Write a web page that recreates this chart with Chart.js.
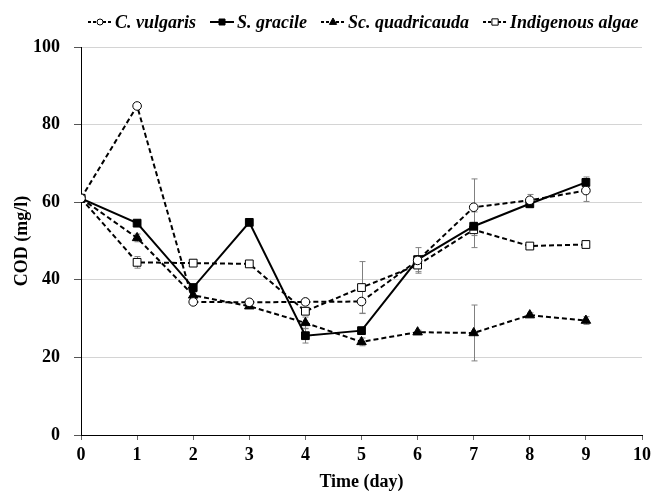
<!DOCTYPE html>
<html><head><meta charset="utf-8">
<script src="https://cdn.jsdelivr.net/npm/chart.js@4/dist/chart.umd.min.js"></script>
<style>
html,body{margin:0;padding:0;background:#fff;overflow:hidden;width:651px;height:491px}
#wrap{position:relative;width:670px;height:491px}
</style>
</head><body><div id="wrap"><canvas id="c"></canvas></div>
<script>
const days = [0, 1, 2, 3, 4, 5, 6, 7, 8, 9];
const xTicks = [0, 1, 2, 3, 4, 5, 6, 7, 8, 9, 10];
const yTicks = [0, 20, 40, 60, 80, 100];
const seriesNames = ['C. vulgaris', 'S. gracile', 'Sc. quadricauda', 'Indigenous algae'];
const cVulgaris     = [61, 84.8, 34.3, 34.2, 34.3, 34.4, 45.0, 58.7, 60.5, 63.0];
const sGracile      = [61, 54.6, 38.0, 54.8, 25.6, 26.9, 45.2, 53.8, 59.6, 65.1];
const scQuadricauda = [61, 50.8, 36.0, 33.2, 28.9, 24.0, 26.5, 26.3, 30.9, 29.5];
const indigenous    = [61, 44.5, 44.3, 44.1, 31.9, 38.0, 43.8, 52.9, 48.7, 49.1];
const cVulgarisErr     = [0, 0.5, 0.5, 0.5, 0.8, 3.0, 3.3, 7.3, 1.5, 2.8];
const sGracileErr      = [0, 0.8, 0.8, 0.5, 1.9, 0.8, 1.0, 1.0, 1.0, 1.4];
const scQuadricaudaErr = [0, 1.0, 0.8, 0.5, 1.5, 1.0, 0.5, 7.2, 0.6, 1.0];
const indigenousErr    = [0, 1.5, 0.5, 0.5, 0.8, 6.7, 1.7, 4.6, 0.5, 0.5];

const serif = '"Liberation Serif", "Times New Roman", serif';
const styles = [
  {dash: [5, 3], point: 'circle',   fill: '#fff', r: 4.3, lr: 3},
  {dash: [],     point: 'rect',     fill: '#000', r: 5.5, lr: 4},
  {dash: [5, 3], point: 'triangle', fill: '#000', r: 5.5, lr: 4},
  {dash: [5, 3], point: 'rect',     fill: '#fff', r: 5.5, lr: 4.2}
];
const allValues = [cVulgaris, sGracile, scQuadricauda, indigenous];
const allErrs = [cVulgarisErr, sGracileErr, scQuadricaudaErr, indigenousErr];

const datasets = allValues.map((vals, k) => ({
  label: seriesNames[k],
  data: days.map((d, i) => ({x: d, y: vals[i]})),
  borderColor: '#000',
  borderWidth: 2,
  borderDash: styles[k].dash,
  pointStyle: styles[k].point,
  pointRadius: styles[k].r,
  pointBackgroundColor: styles[k].fill,
  pointBorderColor: '#000',
  pointBorderWidth: 1,
  fill: false,
  tension: 0,
  errors: allErrs[k]
}));

const errorBars = {
  id: 'errorBars',
  beforeDatasetsDraw(chart) {
    const ctx = chart.ctx, xs = chart.scales.x, ys = chart.scales.y;
    ctx.save();
    ctx.strokeStyle = '#808080';
    ctx.lineWidth = 1;
    chart.data.datasets.forEach(ds => {
      ds.data.forEach((p, i) => {
        const e = ds.errors[i];
        if (!e) return;
        const px = Math.round(xs.getPixelForValue(p.x)) + 0.5;
        const top = ys.getPixelForValue(p.y + e);
        const bot = ys.getPixelForValue(p.y - e);
        ctx.beginPath();
        ctx.moveTo(px, top); ctx.lineTo(px, bot);
        ctx.moveTo(px - 3, top); ctx.lineTo(px + 3, top);
        ctx.moveTo(px - 3, bot); ctx.lineTo(px + 3, bot);
        ctx.stroke();
      });
    });
    ctx.restore();
  }
};

function drawMarker(ctx, style, x, y, r) {
  ctx.save();
  ctx.setLineDash([]);
  ctx.fillStyle = style.fill;
  ctx.strokeStyle = '#000';
  ctx.lineWidth = 1;
  ctx.beginPath();
  if (style.point === 'circle') {
    ctx.arc(x, y, r, 0, Math.PI * 2);
  } else if (style.point === 'rect') {
    ctx.rect(x - r * 0.75, y - r * 0.75, r * 1.5, r * 1.5);
  } else {
    ctx.moveTo(x, y - r);
    ctx.lineTo(x + r * 0.9, y + r * 0.6);
    ctx.lineTo(x - r * 0.9, y + r * 0.6);
    ctx.closePath();
  }
  ctx.fill();
  ctx.stroke();
  ctx.restore();
}

const customLegend = {
  id: 'customLegend',
  afterDraw(chart) {
    const ctx = chart.ctx;
    ctx.save();
    ctx.font = 'italic bold 18px ' + serif;
    ctx.textBaseline = 'middle';
    ctx.fillStyle = '#000';
    let x = 88;
    const y = 22;
    seriesNames.forEach((name, k) => {
      const st = styles[k];
      ctx.save();
      ctx.strokeStyle = '#000';
      ctx.lineWidth = 2;
      ctx.setLineDash(st.dash.length ? [3, 2] : []);
      ctx.beginPath();
      ctx.moveTo(x, y); ctx.lineTo(x + 24, y);
      ctx.stroke();
      ctx.restore();
      drawMarker(ctx, st, x + 12, y, st.lr);
      ctx.fillText(name, x + 27, y + 1);
      x += 27 + ctx.measureText(name).width + 14;
    });
    ctx.restore();
  }
};

new Chart(document.getElementById('c'), {
  type: 'line',
  data: {datasets},
  options: {
    responsive: true,
    maintainAspectRatio: false,
    animation: false,
    layout: {padding: {top: 47, right: 28, bottom: 0, left: 0}},
    plugins: {legend: {display: false}, tooltip: {enabled: false}},
    scales: {
      x: {
        type: 'linear', min: 0, max: 10,
        afterBuildTicks: s => { s.ticks = xTicks.map(v => ({value: v})); },
        afterFit: s => { s.height = 56; },
        grid: {drawOnChartArea: false, tickLength: 5, color: '#000', tickColor: '#666'},
        border: {color: '#000', width: 1},
        ticks: {color: '#000', padding: 5, font: {family: serif, size: 18, weight: 'bold'}},
        title: {display: true, text: 'Time (day)', color: '#000',
                font: {family: serif, size: 18, weight: 'bold', lineHeight: 1}, padding: {top: 0, bottom: 0}}
      },
      y: {
        min: 0, max: 100,
        afterBuildTicks: s => { s.ticks = yTicks.map(v => ({value: v})); },
        afterFit: s => { s.width = 81; },
        grid: {color: '#d4d4d4', tickColor: '#555', tickLength: 7, lineWidth: 1},
        border: {color: '#000', width: 1},
        ticks: {color: '#000', padding: 14, font: {family: serif, size: 18, weight: 'bold'}},
        title: {display: true, text: 'COD (mg/l)', color: '#000',
                font: {family: serif, size: 18, weight: 'bold', lineHeight: 1}, padding: {top: 13, bottom: 0}}
      }
    }
  },
  plugins: [errorBars, customLegend]
});
</script>
</body></html>
